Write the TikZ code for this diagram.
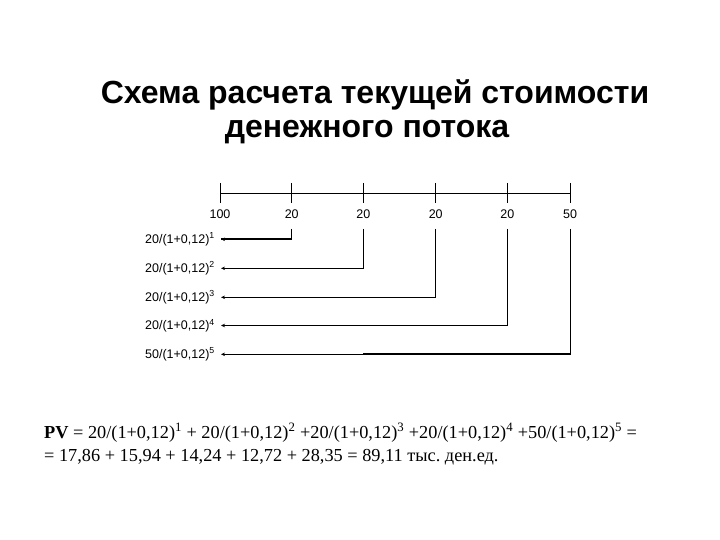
\documentclass[tikz,border=0pt]{standalone}
\usepackage{fontspec}
\setmainfont{Liberation Serif}
\setsansfont{Liberation Sans}
\usetikzlibrary{arrows.meta}
\begin{document}
\frenchspacing
\begin{tikzpicture}[x=1pt,y=-1pt,
  conn/.style={line width=0.9pt,-{Stealth[length=4pt,width=3.5pt]}},
  thickseg/.style={line width=2pt},
  tick/.style={line width=0.9pt},
  val/.style={font=\sffamily\fontsize{12.5}{14}\selectfont},
  rowlab/.style={font=\sffamily\fontsize{12.5}{14}\selectfont, anchor=west, inner sep=0pt}]
\useasboundingbox (0,0) rectangle (720,540);
% title
\node[font=\sffamily\bfseries\fontsize{32}{38}\selectfont] (t1) at (375,95) {Схема расчета текущей стоимости};
\node[font=\sffamily\bfseries\fontsize{32}{38}\selectfont] (t2) at (367,132) {денежного потока};
% timeline
\foreach \i/\x/\v in {0/220/100,1/291.7/20,2/363.3/20,3/435.7/20,4/507.3/20,5/570/50} {
  \coordinate (up\i) at (\x,183);
  \coordinate (dn\i) at (\x,203);
  \coordinate (m\i) at (\x,193);
  \coordinate (s\i) at (\x,229);
  \node[val] (v\i) at (\x,214) {\v};
  \draw[tick] (up\i) -- (dn\i);
}
\draw[tick] (m0) -- (m5);
% rows
\foreach \i/\y/\n/\p in {1/239.3/20/1,2/268.3/20/2,3/297.3/20/3,4/325.5/20/4,5/354.3/50/5} {
  \node[rowlab] (r\i) at (145,\y) {\n/(1+0,12)\textsuperscript{\p}};
  \coordinate (a\i) at (221,\y);
  \coordinate (c\i) at (s\i |- a\i);
  \draw[conn] (s\i) |- (a\i);
}
\coordinate (k5) at (363,354.3);
\draw[thickseg] (c1) -- (a1);
\draw[thickseg] (c5) -- (k5);
% formula
\node[anchor=base west, inner sep=0pt, font=\fontsize{18.3}{22}\selectfont] (f1) at (44,438)
  {\textbf{PV} = 20/(1+0,12)\textsuperscript{1} + 20/(1+0,12)\textsuperscript{2} +20/(1+0,12)\textsuperscript{3} +20/(1+0,12)\textsuperscript{4} +50/(1+0,12)\textsuperscript{5} =};
\node[anchor=base west, inner sep=0pt, font=\fontsize{18.3}{22}\selectfont] (f2) at (44,461)
  {= 17,86 + 15,94 + 14,24 + 12,72 + 28,35 = 89,11 тыс. ден.ед.};
\end{tikzpicture}
\end{document}
